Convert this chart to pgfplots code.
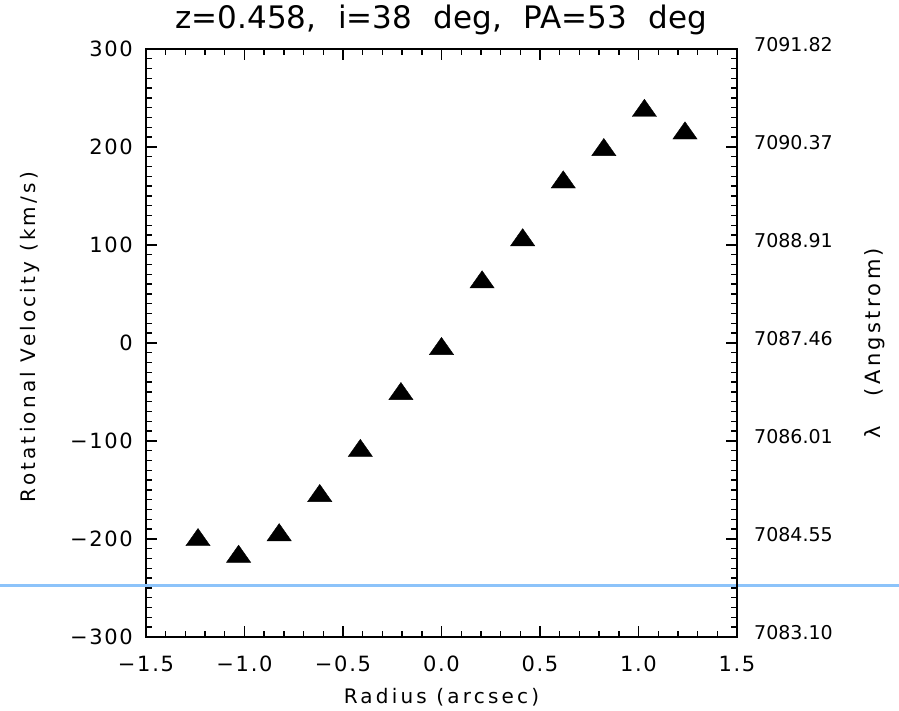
\documentclass[border=0pt]{standalone}
\usepackage{fontspec}
\setmainfont{DejaVu Sans}
\newfontfamily\labfont[LetterSpace=16]{DejaVu Sans}
\newfontfamily\tckfont[LetterSpace=8]{DejaVu Sans}
\usepackage{pgfplots}
\pgfplotsset{compat=1.18}
\definecolor{lineblue}{RGB}{140,195,250}
\begin{document}
\begin{tikzpicture}
\begin{axis}[name=main,
  scale only axis, width=591pt, height=588pt,
  xmin=-1.5, xmax=1.5, ymin=-300, ymax=300,
  xtick={-1.5,-1,-0.5,0,0.5,1,1.5},
  xticklabels={−1.5,−1.0,−0.5,0.0,0.5,1.0,1.5},
  ytick={-300,-200,-100,0,100,200,300},
  yticklabels={−300,−200,−100,0,100,200,300},
  minor x tick num=4, minor y tick num=9,
  xtick pos=both, ytick pos=left, tick align=inside,
  major tick length=11pt, minor tick length=6pt,
  every tick/.style={black, line width=1.4pt},
  axis line style={line width=1.6pt},
  x tick label style={font=\tckfont\fontsize{21}{25}\selectfont, anchor=base, yshift=-35pt},
  y tick label style={font=\tckfont\fontsize{21}{25}\selectfont, anchor=east, inner sep=0pt, xshift=-13pt},
  title={z=0.458,\hspace{0.7em}i=38\hspace{0.7em}deg,\hspace{0.7em}PA=53\hspace{0.7em}deg},
  title style={font=\fontsize{31}{36}\selectfont, at={(axis description cs:0.5,1)}, anchor=base, yshift=14pt, inner sep=0pt},
  xlabel={Radius (arcsec)},
  xlabel style={font=\labfont\fontsize{20}{24}\selectfont, at={(axis description cs:0.5,0)}, anchor=base, yshift=-67pt, inner sep=0pt},
  ylabel={Rotational Velocity (km/s)},
  ylabel style={font=\labfont\fontsize{20}{24}\selectfont, at={(axis description cs:0,0.51)}, anchor=center, yshift=116pt, inner sep=0pt},
  clip=false]
\addplot[only marks, mark=triangle*, mark size=14pt, mark options={yscale=0.82, fill=black, draw=black}]
  coordinates {
  (-1.236,-201) (-1.030,-218) (-0.824,-196) (-0.618,-156) (-0.412,-110)
  (-0.206,-52) (0,-6) (0.206,62) (0.412,105) (0.618,164) (0.824,197)
  (1.030,237) (1.236,214)};
\draw[lineblue, line width=3pt] (axis cs:-2.241,-247) -- (axis cs:2.322,-247);
\end{axis}
\begin{axis}[
  scale only axis, width=591pt, height=588pt,
  xmin=-1.5, xmax=1.5, ymin=-300, ymax=300,
  axis x line=none, axis y line*=right,
  ytick={-300,-200,-100,0,100,200,300},
  yticklabels={7083.10,7084.55,7086.01,7087.46,7088.91,7090.37,7091.82},
  minor y tick num=9, tick align=inside,
  major tick length=11pt, minor tick length=6pt,
  every tick/.style={black, line width=1.4pt},
  axis line style={line width=1.6pt, -},
  y tick label style={font=\fontsize{19}{23}\selectfont, anchor=west, inner sep=0pt, xshift=17pt, yshift=4pt},
  ylabel={λ\hspace{1.4em}(Angstrom)},
  ylabel style={font=\labfont\fontsize{21}{25}\selectfont, at={(axis description cs:1,0.5)}, anchor=center, yshift=-138pt, inner sep=0pt},
  ]
\addplot[draw=none] coordinates {(0,0)};
\end{axis}
\pgfresetboundingbox
\path[use as bounding box] (main.south west) ++(-146pt,-74pt) rectangle ++(899pt,711pt);
\end{tikzpicture}
\end{document}
